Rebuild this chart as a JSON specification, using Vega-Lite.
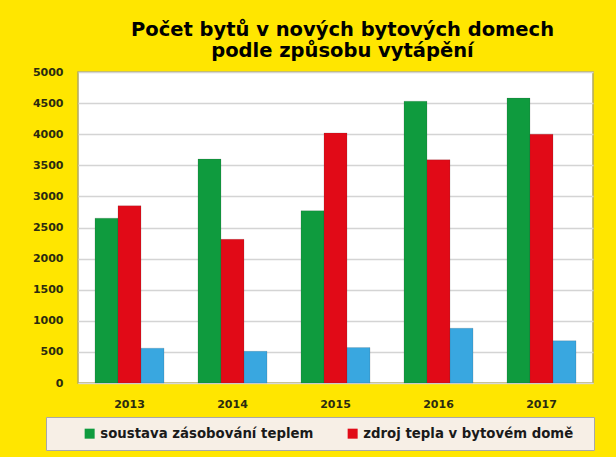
{
  "$schema": "https://vega.github.io/schema/vega-lite/v6.json",
  "width": 515,
  "height": 311,
  "autosize": {"type": "none"},
  "padding": {"left": 78, "top": 72, "right": 23, "bottom": 74},
  "background": "#ffe600",
  "title": {
    "text": ["Počet bytů v nových bytových domech", "podle způsobu vytápění"],
    "font": "DejaVu Sans",
    "fontSize": 19.5,
    "fontWeight": "bold",
    "color": "#000000",
    "lineHeight": 21,
    "anchor": "middle",
    "dx": 7,
    "offset": 5
  },
  "data": {
    "values": [
      {"rok": "2013", "typ": "soustava zásobování teplem", "byty": 2650},
      {"rok": "2013", "typ": "zdroj tepla v bytovém domě", "byty": 2850},
      {"rok": "2013", "typ": "ostatní", "byty": 560},
      {"rok": "2014", "typ": "soustava zásobování teplem", "byty": 3600},
      {"rok": "2014", "typ": "zdroj tepla v bytovém domě", "byty": 2310},
      {"rok": "2014", "typ": "ostatní", "byty": 510},
      {"rok": "2015", "typ": "soustava zásobování teplem", "byty": 2770},
      {"rok": "2015", "typ": "zdroj tepla v bytovém domě", "byty": 4020},
      {"rok": "2015", "typ": "ostatní", "byty": 570},
      {"rok": "2016", "typ": "soustava zásobování teplem", "byty": 4530},
      {"rok": "2016", "typ": "zdroj tepla v bytovém domě", "byty": 3590},
      {"rok": "2016", "typ": "ostatní", "byty": 880},
      {"rok": "2017", "typ": "soustava zásobování teplem", "byty": 4580},
      {"rok": "2017", "typ": "zdroj tepla v bytovém domě", "byty": 4000},
      {"rok": "2017", "typ": "ostatní", "byty": 680}
    ]
  },
  "mark": {"type": "bar", "stroke": "#3a3a3a", "strokeWidth": 0.4, "strokeOpacity": 0.4},
  "encoding": {
    "x": {
      "field": "rok",
      "type": "nominal",
      "scale": {"paddingInner": 0.33, "paddingOuter": 0.165},
      "axis": {
        "title": null,
        "labelAngle": 0,
        "labelFont": "DejaVu Sans",
        "labelFontSize": 11,
        "labelFontWeight": "bold",
        "labelColor": "#2b2b10",
        "labelPadding": 15,
        "ticks": false,
        "domain": true,
        "domainColor": "#d8d8d8"
      }
    },
    "xOffset": {
      "field": "typ",
      "type": "nominal",
      "sort": ["soustava zásobování teplem", "zdroj tepla v bytovém domě", "ostatní"],
      "scale": {"paddingInner": 0, "paddingOuter": 0}
    },
    "y": {
      "field": "byty",
      "type": "quantitative",
      "scale": {"domain": [0, 5000], "nice": false},
      "axis": {
        "title": null,
        "format": "d",
        "values": [0, 500, 1000, 1500, 2000, 2500, 3000, 3500, 4000, 4500, 5000],
        "labelFont": "DejaVu Sans",
        "labelFontSize": 11,
        "labelFontWeight": "bold",
        "labelColor": "#2b2b10",
        "labelPadding": 15,
        "ticks": false,
        "domain": false,
        "gridColor": "#d4d4d4",
        "gridWidth": 1.5
      }
    },
    "color": {
      "field": "typ",
      "type": "nominal",
      "sort": ["soustava zásobování teplem", "zdroj tepla v bytovém domě", "ostatní"],
      "scale": {
        "domain": ["soustava zásobování teplem", "zdroj tepla v bytovém domě", "ostatní"],
        "range": ["#0f9b3e", "#e10a17", "#39a7e0"]
      },
      "legend": {
        "orient": "none",
        "legendX": -32,
        "legendY": 345,
        "direction": "horizontal",
        "values": ["soustava zásobování teplem", "zdroj tepla v bytovém domě"],
        "labelExpr": "datum.label + '\u2800'",
        "title": "x",
        "titleOrient": "left",
        "titleOpacity": 0,
        "titleFont": "DejaVu Sans",
        "titleFontSize": 13,
        "titlePadding": 18,
        "padding": 10,
        "fillColor": "#f7efe6",
        "strokeColor": "#a8a8a8",
        "symbolType": "square",
        "symbolSize": 100,
        "symbolStrokeWidth": 0,
        "symbolOffset": 0,
        "labelOffset": 4,
        "labelFont": "DejaVu Sans",
        "labelFontSize": 13.3,
        "labelFontWeight": "bold",
        "labelColor": "#1a1a1a",
        "labelLimit": 400,
        "columnPadding": 22
      }
    }
  },
  "config": {
    "view": {"fill": "#ffffff", "stroke": "#b0a860", "strokeWidth": 1.5}
  }
}
